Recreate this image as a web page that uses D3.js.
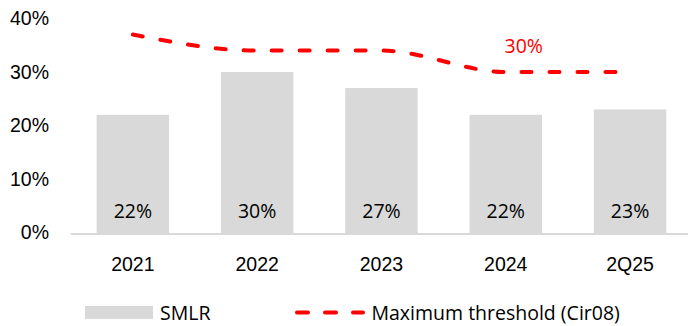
<!DOCTYPE html>
<html>
<head>
<meta charset="utf-8">
<script src="https://cdn.jsdelivr.net/npm/d3@7"></script>
<style>
  html, body { margin: 0; padding: 0; background: #fff; }
  svg { display: block; font-family: "Open Sans", "Noto Sans", sans-serif; }
</style>
</head>
<body>
<svg id="chart" width="688" height="326"></svg>
<script>
// Periods on the horizontal axis
const categories = ["2021", "2022", "2023", "2024", "2Q25"];
// SMLR ratio per period (%)
const smlr = [22, 30, 27, 22, 23];
// Maximum threshold under Cir08 (%)
const threshold = [37, 34, 34, 30, 30];
// Y axis ticks (%)
const yTicks = [0, 10, 20, 30, 40];
// Period whose threshold value is labelled
const labelledIndex = 3;

const svg = d3.select("#chart");
const W = 688, H = 326;

const x = d3.scaleBand()
  .domain(categories)
  .range([70.7, 692.2])
  .paddingInner(0.417)
  .paddingOuter(0.2085);

const y = d3.scaleLinear()
  .domain([0, 40])
  .range([232.5, 18.5]);

const fontSize = 19.5;
const barColor = "#d9d9d9";
const lineColor = "#ff0000";

// Bars
svg.append("g")
  .selectAll("rect")
  .data(smlr)
  .join("rect")
  .attr("x", (d, i) => x(categories[i]))
  .attr("width", x.bandwidth())
  .attr("y", d => y(d))
  .attr("height", d => y(0) + 1 - y(d))
  .attr("fill", barColor);

// Baseline
svg.append("line")
  .attr("x1", x.range()[0])
  .attr("x2", x.range()[1])
  .attr("y1", y(0) + 1.5)
  .attr("y2", y(0) + 1.5)
  .attr("stroke", barColor)
  .attr("stroke-width", 2);

// Y axis (labels only)
const yAxis = d3.axisLeft(y)
  .tickValues(yTicks)
  .tickFormat(d => d + "%")
  .tickSize(0)
  .tickPadding(0);
const gy = svg.append("g")
  .attr("transform", "translate(49,0)")
  .call(yAxis);
gy.select(".domain").remove();
gy.selectAll("text")
  .attr("font-size", fontSize)
  .attr("font-family", null)
  .attr("fill", "#000");

// X axis (labels only)
const xAxis = d3.axisBottom(x).tickSize(0).tickPadding(0);
const gx = svg.append("g")
  .attr("transform", "translate(0,257)")
  .call(xAxis);
gx.select(".domain").remove();
gx.selectAll("text")
  .attr("font-size", fontSize)
  .attr("font-family", null)
  .attr("fill", "#000")
  .attr("dy", "0.74em");

// Value labels inside bars
svg.append("g")
  .selectAll("text")
  .data(smlr)
  .join("text")
  .attr("x", (d, i) => x(categories[i]) + x.bandwidth() / 2)
  .attr("y", 218.3)
  .attr("text-anchor", "middle")
  .attr("font-size", fontSize)
  .attr("fill", "#000")
  .text(d => d + "%");

// Threshold line
const line = d3.line()
  .x((d, i) => x(categories[i]) + x.bandwidth() / 2)
  .y(d => y(d))
  .curve(d3.curveMonotoneX);

svg.append("path")
  .datum(threshold)
  .attr("d", line)
  .attr("fill", "none")
  .attr("stroke", lineColor)
  .attr("stroke-width", 4)
  .attr("stroke-linecap", "round")
  .attr("stroke-dasharray", "10,18");

// Threshold value label
svg.append("text")
  .attr("x", x(categories[labelledIndex]) + x.bandwidth() / 2 + 18)
  .attr("y", y(threshold[labelledIndex]) - 19.5)
  .attr("text-anchor", "middle")
  .attr("font-size", fontSize)
  .attr("fill", lineColor)
  .text(threshold[labelledIndex] + "%");

// Legend
const legend = svg.append("g");
legend.append("rect")
  .attr("x", 85).attr("y", 306)
  .attr("width", 68).attr("height", 13)
  .attr("fill", barColor);
legend.append("text")
  .attr("x", 160).attr("y", 319.5)
  .attr("font-size", fontSize)
  .attr("fill", "#000")
  .text("SMLR");
legend.append("line")
  .attr("x1", 297).attr("x2", 363)
  .attr("y1", 312.5).attr("y2", 312.5)
  .attr("stroke", lineColor)
  .attr("stroke-width", 4)
  .attr("stroke-linecap", "round")
  .attr("stroke-dasharray", "11,17");
legend.append("text")
  .attr("x", 371.5).attr("y", 319.5)
  .attr("font-size", fontSize)
  .attr("fill", "#000")
  .text("Maximum threshold (Cir08)");
</script>
</body>
</html>
